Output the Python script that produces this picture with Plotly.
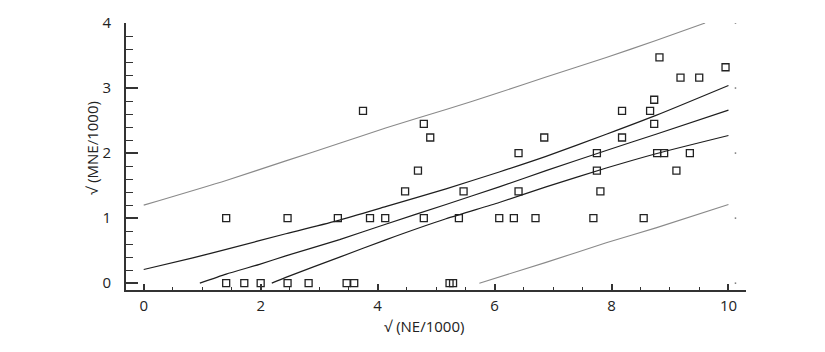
import plotly.graph_objects as go

# Observed data points (sqrt(NE/1000), sqrt(MNE/1000))
pts_x = [1.41, 1.72, 2.00, 2.46, 2.82, 3.47, 3.60, 5.23, 5.29,
         1.41, 2.46, 3.32, 3.87, 4.13, 4.79, 5.39, 6.08, 6.33, 6.70, 7.69, 8.55,
         4.47, 5.47, 6.41, 7.81,
         4.69, 7.75, 9.11,
         6.41, 7.75, 8.78, 8.90, 9.34,
         4.90, 6.85, 8.18,
         4.79, 8.73,
         3.75, 8.18, 8.66,
         8.73,
         9.18, 9.50,
         9.95,
         8.82]
pts_y = [0, 0, 0, 0, 0, 0, 0, 0, 0,
         1, 1, 1, 1, 1, 1, 1, 1, 1, 1, 1, 1,
         1.41, 1.41, 1.41, 1.41,
         1.73, 1.73, 1.73,
         2.0, 2.0, 2.0, 2.0, 2.0,
         2.24, 2.24, 2.24,
         2.45, 2.45,
         2.65, 2.65, 2.65,
         2.82,
         3.16, 3.16,
         3.32,
         3.47]

# Upper prediction limit
upi_x = [0, 1.41, 2.43, 3.35, 4.15, 5.17, 6.08, 6.88, 7.91, 8.76, 9.60]
upi_y = [1.20, 1.58, 1.88, 2.15, 2.39, 2.67, 2.93, 3.17, 3.47, 3.73, 4.00]
# Upper confidence limit
uci_x = [0, 0.84, 1.41, 2.43, 3.35, 4.15, 5.17, 6.08, 6.88, 7.91, 8.76, 10.0]
uci_y = [0.21, 0.39, 0.52, 0.76, 0.97, 1.18, 1.45, 1.71, 1.95, 2.29, 2.58, 3.04]
# Regression line
reg_x = [0.96, 1.41, 1.98, 2.43, 3.35, 4.15, 5.17, 6.08, 6.88, 7.91, 8.76, 10.0]
reg_y = [0.0, 0.14, 0.29, 0.42, 0.67, 0.91, 1.21, 1.48, 1.73, 2.04, 2.29, 2.66]
# Lower confidence limit
lci_x = [2.19, 2.43, 3.35, 4.15, 5.17, 6.08, 6.88, 7.91, 8.76, 10.0]
lci_y = [0.0, 0.09, 0.40, 0.67, 0.99, 1.24, 1.48, 1.77, 1.99, 2.27]
# Lower prediction limit
lpi_x = [5.74, 6.88, 7.91, 8.76, 10.0]
lpi_y = [0.0, 0.32, 0.62, 0.85, 1.21]

# faint right-edge dots
edge_x = [10.12, 10.12, 10.12, 10.12, 10.12]
edge_y = [0, 1, 2, 3, 4]

x_title = "√ (NE/1000)"
y_title = "√ (MNE/1000)"

FONT = "Open Sans"
FS = 15
fig = go.Figure()
gray = dict(color="#8a8a8a", width=1.1, shape="spline", smoothing=0.6)
blk = dict(color="#1e1e1e", width=1.2, shape="spline", smoothing=0.6)
fig.add_trace(go.Scatter(x=upi_x, y=upi_y, mode="lines", line=gray, hoverinfo="skip"))
fig.add_trace(go.Scatter(x=lpi_x, y=lpi_y, mode="lines", line=gray, hoverinfo="skip"))
fig.add_trace(go.Scatter(x=uci_x, y=uci_y, mode="lines", line=blk, hoverinfo="skip"))
fig.add_trace(go.Scatter(x=reg_x, y=reg_y, mode="lines", line=blk, hoverinfo="skip"))
fig.add_trace(go.Scatter(x=lci_x, y=lci_y, mode="lines", line=blk, hoverinfo="skip"))
fig.add_trace(go.Scatter(x=pts_x, y=pts_y, mode="markers",
                         marker=dict(symbol="square-open", size=7, color="#222",
                                     line=dict(width=1.3, color="#222"))))
fig.add_trace(go.Scatter(x=edge_x, y=edge_y, mode="markers",
                         marker=dict(symbol="square", size=1.5, color="#777")))

fig.update_layout(
    width=825, height=352,
    margin=dict(l=126, r=79, t=16, b=62),
    paper_bgcolor="white", plot_bgcolor="white",
    showlegend=False,
    font=dict(family=FONT, size=FS, color="#222"),
    xaxis=dict(range=[-0.303, 10.30], tickvals=[0, 2, 4, 6, 8, 10],
               showgrid=False, zeroline=False,
               showline=True, linecolor="#333", linewidth=2,
               ticks="inside", ticklen=6, tickwidth=1.5, tickcolor="#333",
               minor=dict(dtick=0.5, tick0=0, ticks="inside", ticklen=3,
                          tickwidth=1.2, tickcolor="#333", showgrid=False),
               tickfont=dict(family=FONT, size=FS, color="#222"),
               ticklabelstandoff=1),
    yaxis=dict(range=[-0.105, 4.0], tickvals=[0, 1, 2, 3, 4],
               showgrid=False, zeroline=False,
               showline=True, linecolor="#333", linewidth=2,
               ticks="inside", ticklen=12, tickwidth=1.5, tickcolor="#333",
               minor=dict(dtick=0.2, tick0=0, ticks="inside", ticklen=7,
                          tickwidth=1.2, tickcolor="#333", showgrid=False),
               tickfont=dict(family=FONT, size=FS, color="#222"),
               ticklabelstandoff=10),
    annotations=[
        dict(text=x_title, xref="paper", yref="paper", x=0.481, y=-0.134,
             xanchor="center", yanchor="middle", showarrow=False,
             font=dict(family=FONT, size=FS, color="#222")),
        dict(text=y_title, xref="paper", yref="paper", x=-0.056, y=0.533,
             xanchor="center", yanchor="middle", showarrow=False, textangle=-90,
             font=dict(family=FONT, size=FS, color="#222")),
    ],
)
fig.write_html("out.html")
